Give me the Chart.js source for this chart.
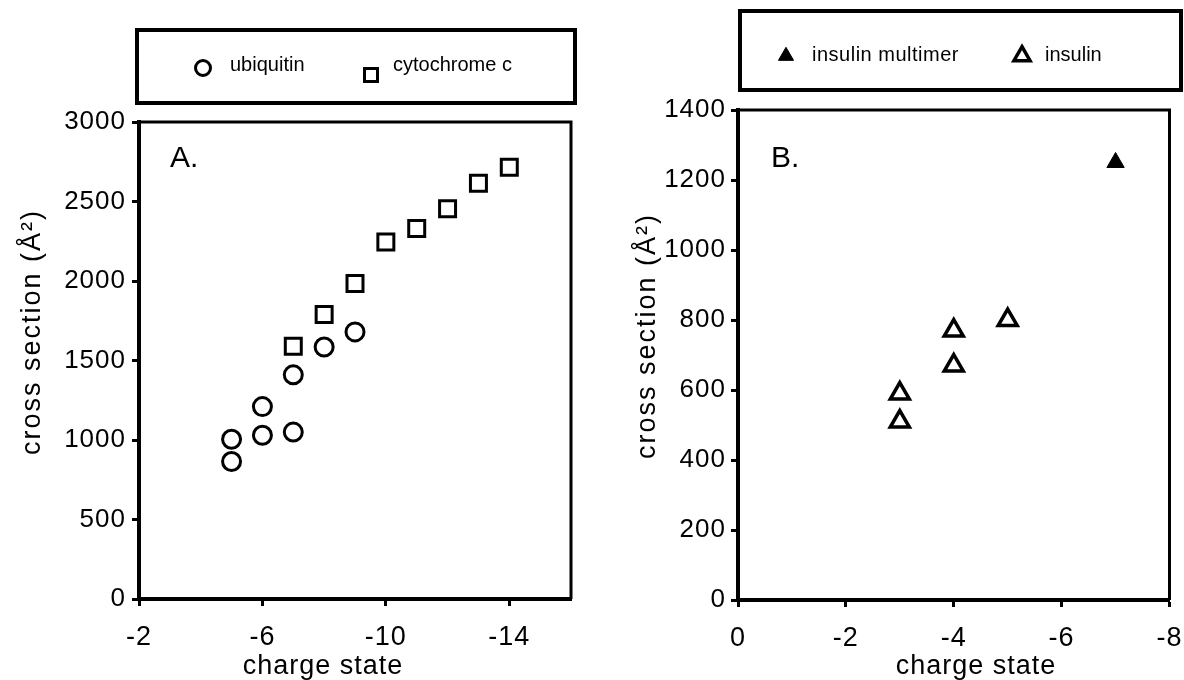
<!DOCTYPE html>
<html>
<head>
<meta charset="utf-8">
<script src="https://cdn.jsdelivr.net/npm/chart.js@4.4.1/dist/chart.umd.min.js"></script>
<style>
  html, body { margin: 0; padding: 0; background: #fff; }
  #wrap { position: relative; width: 1184px; height: 680px; overflow: hidden; }
  .panel { position: absolute; top: 0; width: 592px; height: 680px; }
  #panelA { left: 0; }
  #panelB { left: 592px; }
</style>
</head>
<body>
<div id="wrap">
  <div class="panel" id="panelA"><canvas id="chartA" width="592" height="680"></canvas></div>
  <div class="panel" id="panelB"><canvas id="chartB" width="592" height="680"></canvas></div>
</div>
<script>
// panel A
const ubiquitinCharge = [-5, -5, -6, -6, -7, -7, -8, -9];
const ubiquitinSection = [1005, 865, 1210, 1030, 1410, 1050, 1585, 1680];
const cytochromeCharge = [-7, -8, -9, -10, -11, -12, -13, -14];
const cytochromeSection = [1590, 1790, 1985, 2245, 2330, 2455, 2615, 2715];
const chargeTicksA = [-2, -6, -10, -14];
const sectionTicksA = [0, 500, 1000, 1500, 2000, 2500, 3000];

// panel B
const multimerCharge = [-7];
const multimerSection = [1250];
const insulinCharge = [-3, -3, -4, -4, -5];
const insulinSection = [590, 510, 770, 670, 800];
const chargeTicksB = [0, -2, -4, -6, -8];
const sectionTicksB = [0, 200, 400, 600, 800, 1000, 1200, 1400];

const seriesLabelsA = ['ubiquitin', 'cytochrome c'];
const seriesLabelsB = ['insulin multimer', 'insulin'];
const xTitle = 'charge state';
const yTitle = 'cross section (Å²)';

const FONT = "'Liberation Sans', Arial, sans-serif";
const TICK_SPACING = '1px'; // the original lettering is a bit wider than Arial

function toPoints(xs, ys) {
  return xs.map((x, i) => ({ x: x, y: ys[i] }));
}

function axis(min, max, ticks, horizontal, boxSize, fontSize, pad) {
  return {
    type: 'linear',
    min: min,
    max: max,
    reverse: horizontal,
    afterBuildTicks: s => { s.ticks = ticks.map(v => ({ value: v })); },
    afterFit: s => {
      if (horizontal) {
        s.height = boxSize;
        s.paddingLeft = 0;
        s.paddingRight = 0;
      } else {
        s.width = boxSize;
        s.paddingTop = 0;
        s.paddingBottom = 0;
      }
    },
    grid: { drawOnChartArea: false, drawTicks: true, tickLength: 7, tickWidth: 3, tickColor: '#000' },
    border: { display: true, color: '#000', width: 4 },
    ticks: {
      color: '#000',
      padding: pad,
      autoSkip: false,
      maxRotation: 0,
      font: { family: FONT, size: fontSize },
      callback: v => String(v)
    },
    title: { display: false }
  };
}

// frame, legend box, panel letter and axis titles
const decor = {
  id: 'decor',
  beforeUpdate(chart) { chart.ctx.letterSpacing = TICK_SPACING; },
  beforeDraw(chart) { chart.ctx.letterSpacing = TICK_SPACING; },
  afterDraw(chart, args, opts) {
    const ctx = chart.ctx;
    const area = chart.chartArea;
    ctx.save();
    ctx.strokeStyle = '#000';
    ctx.fillStyle = '#000';

    ctx.lineWidth = 3;
    ctx.beginPath();
    ctx.moveTo(area.left, area.top);
    ctx.lineTo(area.right, area.top);
    ctx.lineTo(area.right, area.bottom);
    ctx.stroke();

    const box = opts.box;
    ctx.lineWidth = 4;
    ctx.strokeRect(box.x, box.y, box.w, box.h);

    chart.data.datasets.forEach((ds, i) => {
      const it = opts.items[i];
      ctx.fillStyle = ds.backgroundColor;
      ctx.strokeStyle = ds.borderColor;
      ctx.lineWidth = ds.borderWidth;
      Chart.helpers.drawPoint(ctx, { pointStyle: ds.pointStyle, rotation: 0, radius: it.r, borderWidth: ds.borderWidth }, it.x, it.y);
      ctx.fillStyle = '#000';
      ctx.font = '20px ' + FONT;
      ctx.letterSpacing = it.ls + 'px';
      ctx.textAlign = 'left';
      ctx.textBaseline = 'alphabetic';
      ctx.fillText(ds.label, it.tx, it.ty);
    });

    ctx.letterSpacing = '0px';
    ctx.font = '30px ' + FONT;
    ctx.fillText(opts.panel.text, opts.panel.x, opts.panel.y);

    ctx.font = '27px ' + FONT;
    ctx.letterSpacing = '1px';
    ctx.textAlign = 'center';
    ctx.fillText(xTitle, opts.xt.x, opts.xt.y);

    ctx.font = '27px ' + FONT;
    ctx.letterSpacing = '2px';
    ctx.textBaseline = 'middle';
    ctx.translate(opts.yt.x, opts.yt.y);
    ctx.rotate(-Math.PI / 2);
    ctx.fillText(yTitle, 0, 0);
    ctx.restore();
  }
};

new Chart(document.getElementById('chartA'), {
  type: 'scatter',
  data: {
    datasets: [
      {
        label: seriesLabelsA[0],
        data: toPoints(ubiquitinCharge, ubiquitinSection),
        pointStyle: 'circle',
        pointRadius: 9,
        backgroundColor: 'rgba(0,0,0,0)',
        borderColor: '#000',
        borderWidth: 3
      },
      {
        label: seriesLabelsA[1],
        data: toPoints(cytochromeCharge, cytochromeSection),
        pointStyle: 'rect',
        pointRadius: 11.3,
        backgroundColor: 'rgba(0,0,0,0)',
        borderColor: '#000',
        borderWidth: 3
      }
    ]
  },
  options: {
    responsive: false,
    animation: false,
    layout: { padding: { top: 122, right: 21, bottom: 0, left: 0 } },
    scales: {
      x: axis(-16, -2, chargeTicksA, true, 81, 27, 15),
      y: axis(0, 3000, sectionTicksA, false, 139, 26, 6)
    },
    plugins: {
      legend: { display: false },
      tooltip: { enabled: false },
      decor: {
        box: { x: 137, y: 30, w: 438, h: 73 },
        items: [
          { x: 203, y: 68, r: 7.5, tx: 230, ty: 71, ls: 0 },
          { x: 371, y: 75, r: 9.2, tx: 393, ty: 71, ls: 0 }
        ],
        panel: { text: 'A.', x: 170, y: 167 },
        xt: { x: 323, y: 674 },
        yt: { x: 33, y: 332 }
      }
    }
  },
  plugins: [decor]
});

new Chart(document.getElementById('chartB'), {
  type: 'scatter',
  data: {
    datasets: [
      {
        label: seriesLabelsB[0],
        data: toPoints(multimerCharge, multimerSection),
        pointStyle: 'triangle',
        pointRadius: 10,
        backgroundColor: '#000',
        borderColor: '#000',
        borderWidth: 1
      },
      {
        label: seriesLabelsB[1],
        data: toPoints(insulinCharge, insulinSection),
        pointStyle: 'triangle',
        pointRadius: 11,
        backgroundColor: 'rgba(0,0,0,0)',
        borderColor: '#000',
        borderWidth: 3.5
      }
    ]
  },
  options: {
    responsive: false,
    animation: false,
    layout: { padding: { top: 110, right: 6, bottom: 0, left: 0 } },
    scales: {
      x: axis(-8, 0, chargeTicksB, true, 80, 27, 15),
      y: axis(0, 1400, sectionTicksB, false, 146, 26, 5)
    },
    plugins: {
      legend: { display: false },
      tooltip: { enabled: false },
      decor: {
        box: { x: 148, y: 11, w: 441, h: 79 },
        items: [
          { x: 194, y: 56, r: 8.7, tx: 220, ty: 61, ls: 0.5 },
          { x: 430, y: 56, r: 9.3, tx: 453, ty: 61, ls: 0 }
        ],
        panel: { text: 'B.', x: 179, y: 167 },
        xt: { x: 384, y: 674 },
        yt: { x: 56, y: 336 }
      }
    }
  },
  plugins: [decor]
});
</script>
</body>
</html>
